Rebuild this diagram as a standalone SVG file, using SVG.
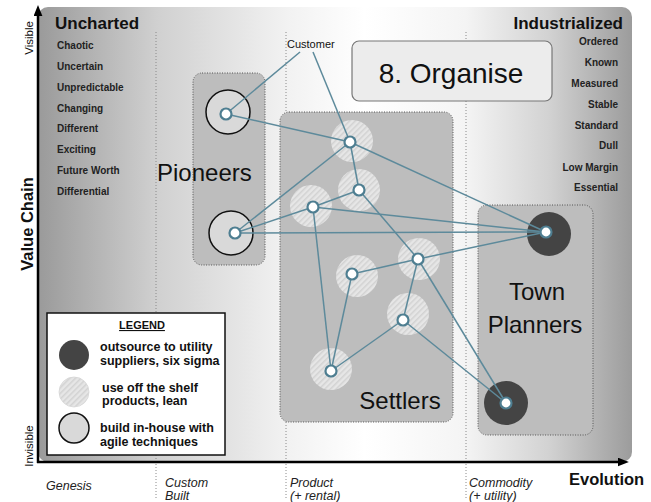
<svg xmlns="http://www.w3.org/2000/svg" width="651" height="502" viewBox="0 0 651 502">
  <defs>
    <linearGradient id="bg" x1="38" y1="0" x2="632" y2="0" gradientUnits="userSpaceOnUse">
      <stop offset="0" stop-color="#9a9a9a"/>
      <stop offset="0.2" stop-color="#d0d0d0"/>
      <stop offset="0.42" stop-color="#f2f2f2"/>
      <stop offset="0.55" stop-color="#ffffff"/>
      <stop offset="0.72" stop-color="#f4f4f4"/>
      <stop offset="0.86" stop-color="#d2d2d2"/>
      <stop offset="1" stop-color="#9c9c9c"/>
    </linearGradient>
    <pattern id="hatch" width="4" height="4" patternUnits="userSpaceOnUse" patternTransform="rotate(45)">
      <rect width="4" height="4" fill="#e6e6e6"/>
      <line x1="0.75" y1="0" x2="0.75" y2="4" stroke="#d2d2d2" stroke-width="1.5"/>
    </pattern>
    <marker id="arrow" viewBox="0 0 10 8" refX="1" refY="4" markerWidth="11" markerHeight="9" markerUnits="userSpaceOnUse" orient="auto">
      <path d="M0,0 L10,4 L0,8 z" fill="#000"/>
    </marker>
  </defs>
  <style>
    .lbl { font-family: "Liberation Sans", Arial, sans-serif; fill: #111; }
    .trait { font-family: "Liberation Sans", Arial, sans-serif; font-weight: bold; font-size: 10px; fill: #222; }
    .head { font-family: "Liberation Sans", Arial, sans-serif; font-weight: bold; font-size: 17px; fill: #111; }
    .stage { font-family: "Liberation Sans", Arial, sans-serif; font-style: italic; font-size: 12.5px; fill: #222; }
    .big { font-family: "Liberation Sans", Arial, sans-serif; font-size: 24px; fill: #111; }
    .leg { font-family: "Liberation Sans", Arial, sans-serif; font-weight: bold; font-size: 12.5px; fill: #111; }
    .divider { stroke: #8a8a8a; stroke-width: 1; stroke-dasharray: 1 2; fill: none; }
    .group { fill: #bdbdbd; stroke: #555; stroke-width: 1; stroke-dasharray: 1 1.5; }
    .edge { stroke: #5d8a9b; stroke-width: 1.5; fill: none; }
    .dot { fill: #fff; stroke: #4e7e91; stroke-width: 2.2; }
    .halo { fill: url(#hatch); }
    .ring { fill: #d9d9d9; stroke: #111; stroke-width: 1.5; }
    .solid { fill: #444; }
    .axis { stroke: #000; stroke-width: 2.5; fill: none; }
  </style>

  <!-- map background -->
  <rect x="38" y="7" width="594" height="455" rx="10" fill="url(#bg)"/>

  <!-- evolution stage dividers -->
  <g id="dividers">
    <line class="divider" x1="156" y1="32" x2="156" y2="500"/>
    <line class="divider" x1="286" y1="32" x2="286" y2="500"/>
    <line class="divider" x1="466" y1="32" x2="466" y2="500"/>
  </g>

  <!-- axes -->
  <g id="axes">
    <line class="axis" x1="38" y1="463" x2="38" y2="15" marker-end="url(#arrow)"/>
    <line class="axis" x1="37" y1="462" x2="619" y2="462" marker-end="url(#arrow)"/>
    <text class="lbl" font-size="11.5" transform="translate(33,38) rotate(-90)" text-anchor="middle">Visible</text>
    <text class="lbl" font-size="11.5" transform="translate(33,446) rotate(-90)" text-anchor="middle">Invisible</text>
    <text class="lbl" font-size="16.5" font-weight="bold" transform="translate(33,224) rotate(-90)" text-anchor="middle">Value Chain</text>
    <text class="lbl" font-size="16.5" font-weight="bold" x="569" y="485">Evolution</text>
    <text class="stage" x="46" y="490">Genesis</text>
    <text class="stage" x="165" y="487">Custom</text>
    <text class="stage" x="165" y="500">Built</text>
    <text class="stage" x="290" y="487">Product</text>
    <text class="stage" x="290" y="500">(+ rental)</text>
    <text class="stage" x="469" y="487">Commodity</text>
    <text class="stage" x="469" y="500">(+ utility)</text>
  </g>

  <!-- characteristics -->
  <g id="uncharted">
    <text class="head" x="55" y="29">Uncharted</text>
    <text class="trait" x="57" y="49">Chaotic</text>
    <text class="trait" x="57" y="70">Uncertain</text>
    <text class="trait" x="57" y="91">Unpredictable</text>
    <text class="trait" x="57" y="112">Changing</text>
    <text class="trait" x="57" y="132">Different</text>
    <text class="trait" x="57" y="153">Exciting</text>
    <text class="trait" x="57" y="174">Future Worth</text>
    <text class="trait" x="57" y="195">Differential</text>
  </g>
  <g id="industrialized" text-anchor="end">
    <text class="head" x="623" y="29">Industrialized</text>
    <text class="trait" x="618" y="45">Ordered</text>
    <text class="trait" x="618" y="66">Known</text>
    <text class="trait" x="618" y="87">Measured</text>
    <text class="trait" x="618" y="108">Stable</text>
    <text class="trait" x="618" y="129">Standard</text>
    <text class="trait" x="618" y="149">Dull</text>
    <text class="trait" x="618" y="171">Low Margin</text>
    <text class="trait" x="618" y="191">Essential</text>
  </g>

  <!-- title -->
  <g id="title">
    <rect x="352" y="41" width="200" height="60" rx="7" fill="#ececec" stroke="#777" stroke-width="1.2"/>
    <text class="lbl" font-size="28" x="451" y="83" text-anchor="middle">8. Organise</text>
  </g>

  <!-- groupings -->
  <g id="pioneers">
    <rect class="group" x="193" y="73" width="72" height="192" rx="9"/>
    <text class="big" x="157" y="181">Pioneers</text>
  </g>
  <g id="settlers">
    <rect class="group" x="280" y="112" width="173" height="310" rx="9"/>
    <text class="big" x="400" y="409" text-anchor="middle">Settlers</text>
  </g>
  <g id="town-planners">
    <rect class="group" x="478" y="205" width="115" height="230" rx="9"/>
    <text class="big" x="537" y="300" text-anchor="middle">Town</text>
    <text class="big" x="535" y="333" text-anchor="middle">Planners</text>
  </g>

  <!-- component halos -->
  <g id="halos">
    <circle class="ring" cx="228" cy="112" r="22"/>
    <circle class="ring" cx="231" cy="233" r="22"/>
    <circle class="halo" cx="352" cy="141" r="21"/>
    <circle class="halo" cx="359" cy="190" r="21"/>
    <circle class="halo" cx="311" cy="206" r="21"/>
    <circle class="halo" cx="357" cy="276" r="21"/>
    <circle class="halo" cx="419" cy="259" r="21"/>
    <circle class="halo" cx="408" cy="314" r="21"/>
    <circle class="halo" cx="331" cy="369" r="21"/>
    <circle class="solid" cx="549" cy="234" r="22"/>
    <circle class="solid" cx="506" cy="403" r="22"/>
  </g>

  <!-- connectors -->
  <g id="connectors">
    <line class="edge" x1="300" y1="52" x2="226" y2="114"/>
    <line class="edge" x1="313" y1="52" x2="350" y2="142"/>
    <line class="edge" x1="226" y1="114" x2="350" y2="142"/>
    <line class="edge" x1="350" y1="142" x2="235" y2="233"/>
    <line class="edge" x1="350" y1="142" x2="359" y2="190"/>
    <line class="edge" x1="350" y1="142" x2="546" y2="232"/>
    <line class="edge" x1="359" y1="190" x2="313" y2="207"/>
    <line class="edge" x1="359" y1="190" x2="418" y2="259"/>
    <line class="edge" x1="313" y1="207" x2="235" y2="233"/>
    <line class="edge" x1="313" y1="207" x2="546" y2="232"/>
    <line class="edge" x1="313" y1="207" x2="331" y2="371"/>
    <line class="edge" x1="235" y1="233" x2="546" y2="232"/>
    <line class="edge" x1="352" y1="274" x2="418" y2="259"/>
    <line class="edge" x1="352" y1="274" x2="331" y2="371"/>
    <line class="edge" x1="418" y1="259" x2="546" y2="232"/>
    <line class="edge" x1="418" y1="259" x2="403" y2="320"/>
    <line class="edge" x1="418" y1="259" x2="506" y2="403"/>
    <line class="edge" x1="403" y1="320" x2="331" y2="371"/>
    <line class="edge" x1="403" y1="320" x2="506" y2="403"/>
  </g>

  <!-- components -->
  <g id="customer">
    <text class="lbl" font-size="11" x="287" y="48">Customer</text>
  </g>
  <g id="p1"><circle class="dot" cx="226" cy="114" r="5.5"/></g>
  <g id="p2"><circle class="dot" cx="235" cy="233" r="5.5"/></g>
  <g id="s1"><circle class="dot" cx="350" cy="142" r="5.5"/></g>
  <g id="s2"><circle class="dot" cx="359" cy="190" r="5.5"/></g>
  <g id="s3"><circle class="dot" cx="313" cy="207" r="5.5"/></g>
  <g id="s4"><circle class="dot" cx="352" cy="274" r="5.5"/></g>
  <g id="s5"><circle class="dot" cx="418" cy="259" r="5.5"/></g>
  <g id="s6"><circle class="dot" cx="403" cy="320" r="5.5"/></g>
  <g id="s7"><circle class="dot" cx="331" cy="371" r="5.5"/></g>
  <g id="t1"><circle class="dot" cx="546" cy="232" r="5.5"/></g>
  <g id="t2"><circle class="dot" cx="506" cy="403" r="5.5"/></g>

  <!-- legend -->
  <g id="legend">
    <rect x="47" y="313" width="178" height="142" fill="#fff" stroke="#111" stroke-width="1.5"/>
    <text class="lbl" font-size="11" font-weight="bold" x="142" y="329" text-anchor="middle" text-decoration="underline">LEGEND</text>
    <circle class="solid" cx="74" cy="355" r="15"/>
    <circle class="halo" cx="74" cy="392" r="15" stroke="#d6d6d6" stroke-width="0.8"/>
    <circle class="ring" cx="74" cy="428" r="15"/>
    <text class="leg" x="100" y="351">outsource to utility</text>
    <text class="leg" x="100" y="365">suppliers, six sigma</text>
    <text class="leg" x="102" y="392">use off the shelf</text>
    <text class="leg" x="102" y="405">products, lean</text>
    <text class="leg" x="100" y="432">build in-house with</text>
    <text class="leg" x="100" y="446">agile techniques</text>
  </g>
</svg>
